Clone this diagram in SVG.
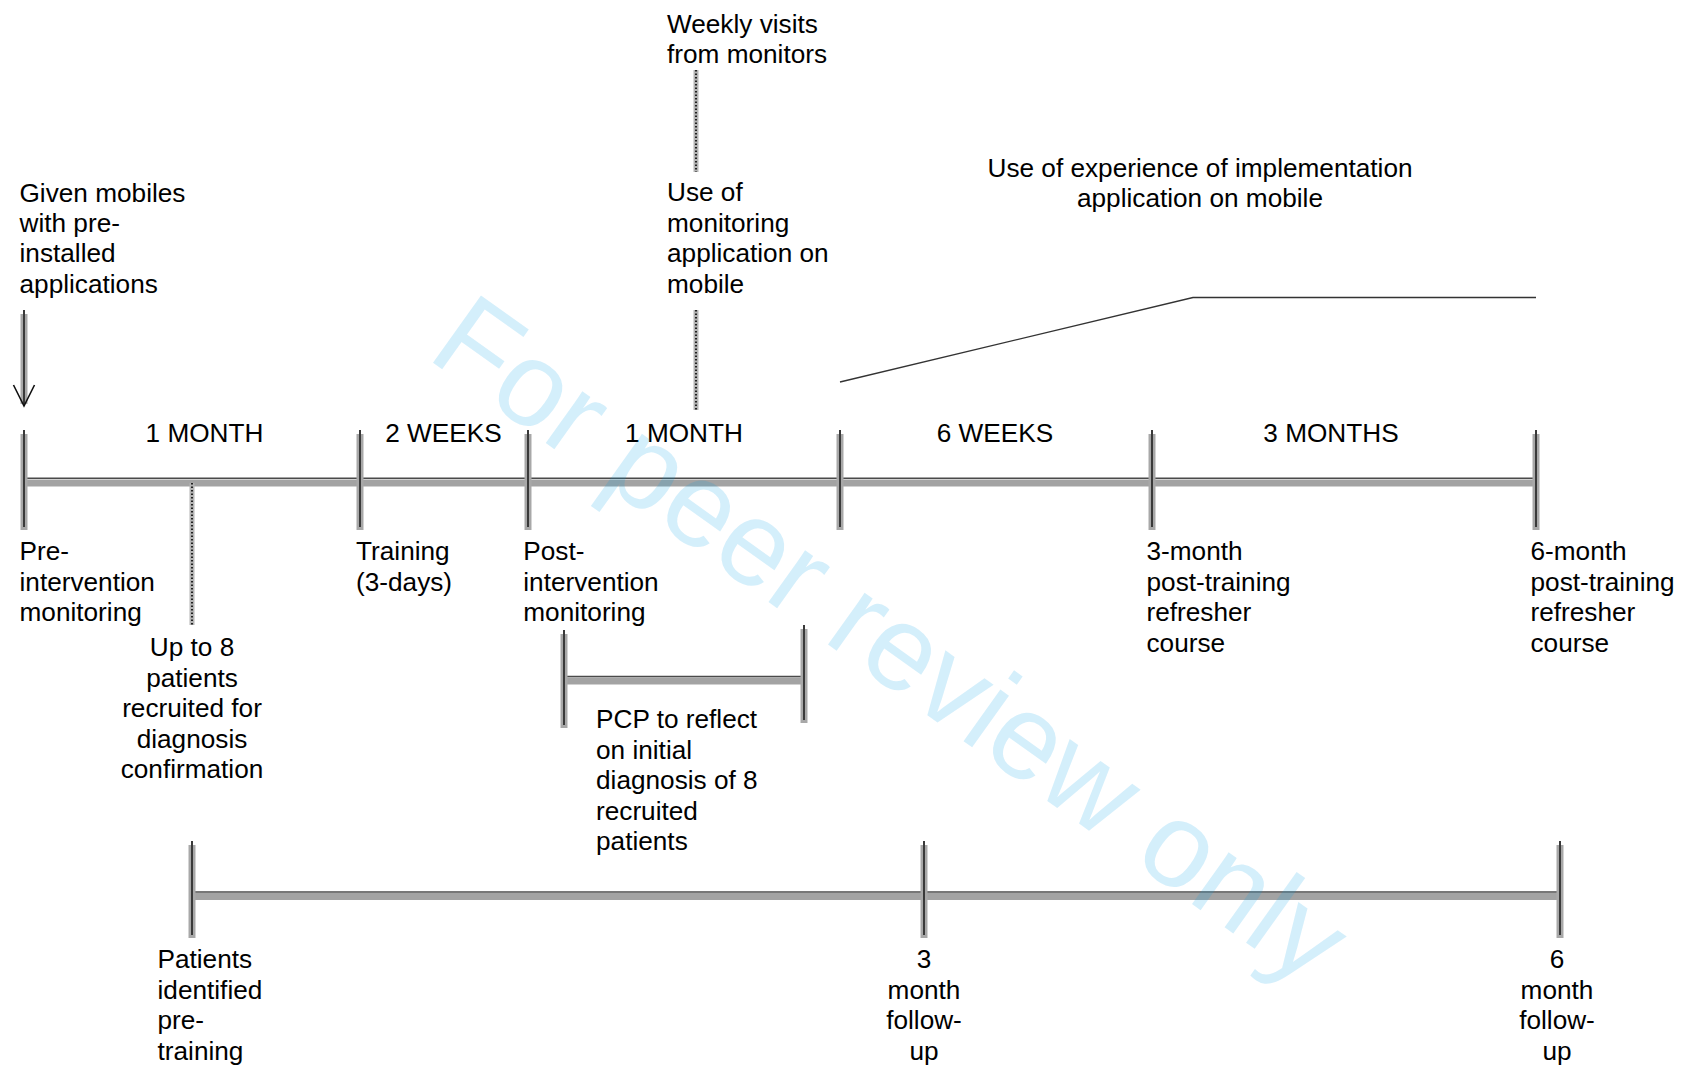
<svg xmlns="http://www.w3.org/2000/svg" width="1691" height="1079" viewBox="0 0 1691 1079">
  <style>
    text { font-family: "Liberation Sans", Arial, sans-serif; font-size: 26.2px; fill: #000; }
    .mid { text-anchor: middle; }
    .halo { stroke: #a8a8a8; stroke-width: 7; fill: none; }
    .core { stroke: #3a3a3a; stroke-width: 2; fill: none; }
    .band { stroke: #a3a3a3; stroke-width: 7; fill: none; }
    .edge { stroke: #4a4a4a; stroke-width: 1.6; fill: none; }
    .dothalo { stroke: #b4b4b4; stroke-width: 5; fill: none; }
    .dots { stroke: #222; stroke-width: 2; stroke-dasharray: 1.5 2; fill: none; }
    .thin { stroke: #333; stroke-width: 1.3; fill: none; }
    .mark { font-size: 120px; fill: #00a2e8; fill-opacity: 0.17; }
  </style>

  <rect width="1691" height="1079" fill="#fff"/>

  <!-- connectors: axes, ticks, dotted links, arrow, bracket -->
  <g id="connectors">
    <!-- main timeline -->
    <line class="band" x1="24" y1="483" x2="1536" y2="483"/>
    <line class="edge" x1="24" y1="478.3" x2="1536" y2="478.3"/>
    <!-- main ticks -->
    <g id="main-ticks">
      <line class="halo" x1="24" y1="434" x2="24" y2="530"/><line class="core" x1="24" y1="430" x2="24" y2="527"/>
      <line class="halo" x1="360" y1="434" x2="360" y2="530"/><line class="core" x1="360" y1="430" x2="360" y2="527"/>
      <line class="halo" x1="528" y1="434" x2="528" y2="530"/><line class="core" x1="528" y1="430" x2="528" y2="527"/>
      <line class="halo" x1="840" y1="434" x2="840" y2="530"/><line class="core" x1="840" y1="430" x2="840" y2="527"/>
      <line class="halo" x1="1152" y1="434" x2="1152" y2="530"/><line class="core" x1="1152" y1="430" x2="1152" y2="527"/>
      <line class="halo" x1="1536" y1="434" x2="1536" y2="530"/><line class="core" x1="1536" y1="430" x2="1536" y2="527"/>
    </g>

    <!-- arrow from "Given mobiles" -->
    <line class="halo" x1="24" y1="314" x2="24" y2="404"/>
    <line class="core" x1="24" y1="310" x2="24" y2="406"/>
    <polyline points="13.5,385 24,406 34.5,385" stroke="#111" stroke-width="1.6" fill="none"/>

    <!-- dotted links -->
    <line class="dothalo" x1="696" y1="70" x2="696" y2="172"/>
    <line class="dots" x1="696" y1="70" x2="696" y2="172"/>
    <line class="dothalo" x1="696" y1="310" x2="696" y2="410"/>
    <line class="dots" x1="696" y1="310" x2="696" y2="410"/>
    <line class="dothalo" x1="192" y1="483" x2="192" y2="625"/>
    <line class="dots" x1="192" y1="483" x2="192" y2="625"/>

    <!-- bent line towards the later phase label -->
    <polyline class="thin" points="840,382 1193,297.5 1536,297.5"/>

    <!-- PCP bracket -->
    <line class="band" x1="564" y1="681" x2="804" y2="681"/>
    <line class="edge" x1="564" y1="676.5" x2="804" y2="676.5"/>
    <line class="halo" x1="564" y1="634" x2="564" y2="728"/><line class="core" x1="564" y1="630" x2="564" y2="725"/>
    <line class="halo" x1="804" y1="629" x2="804" y2="723"/><line class="core" x1="804" y1="625" x2="804" y2="720"/>

    <!-- follow-up timeline -->
    <line class="band" x1="192" y1="896.5" x2="1558" y2="896.5"/>
    <line class="edge" x1="192" y1="892" x2="1558" y2="892"/>
    <line class="halo" x1="192" y1="845" x2="192" y2="938"/><line class="core" x1="192" y1="841" x2="192" y2="935"/>
    <line class="halo" x1="924" y1="845" x2="924" y2="938"/><line class="core" x1="924" y1="841" x2="924" y2="935"/>
    <line class="halo" x1="1560" y1="845" x2="1560" y2="938"/><line class="core" x1="1560" y1="841" x2="1560" y2="935"/>
  </g>

  <!-- labels above the timeline -->
  <g id="weekly-visits">
    <text x="667" y="33">Weekly visits</text>
    <text x="667" y="63">from monitors</text>
  </g>
  <g id="monitoring-app">
    <text x="667" y="201">Use of</text>
    <text x="667" y="231.5">monitoring</text>
    <text x="667" y="262">application on</text>
    <text x="667" y="292.5">mobile</text>
  </g>
  <g id="given-mobiles">
    <text x="19.5" y="201.5">Given mobiles</text>
    <text x="19.5" y="232">with pre-</text>
    <text x="19.5" y="262">installed</text>
    <text x="19.5" y="292.5">applications</text>
  </g>
  <g id="implementation-app">
    <text class="mid" x="1200" y="177">Use of experience of implementation</text>
    <text class="mid" x="1200" y="207">application on mobile</text>
  </g>

  <!-- period labels -->
  <g id="periods">
    <text class="mid" x="204.5" y="442">1 MONTH</text>
    <text class="mid" x="443.5" y="442">2 WEEKS</text>
    <text class="mid" x="684" y="442">1 MONTH</text>
    <text class="mid" x="995" y="442">6 WEEKS</text>
    <text class="mid" x="1331" y="442">3 MONTHS</text>
  </g>

  <!-- milestone labels -->
  <g id="pre-intervention">
    <text x="19.5" y="560">Pre-</text>
    <text x="19.5" y="590.5">intervention</text>
    <text x="19.5" y="621">monitoring</text>
  </g>
  <g id="training">
    <text x="356" y="560">Training</text>
    <text x="356" y="590.5">(3-days)</text>
  </g>
  <g id="post-intervention">
    <text x="523.3" y="560">Post-</text>
    <text x="523.3" y="590.5">intervention</text>
    <text x="523.3" y="621">monitoring</text>
  </g>
  <g id="refresher-3">
    <text x="1146.5" y="560">3-month</text>
    <text x="1146.5" y="590.5">post-training</text>
    <text x="1146.5" y="621">refresher</text>
    <text x="1146.5" y="651.5">course</text>
  </g>
  <g id="refresher-6">
    <text x="1530.5" y="560">6-month</text>
    <text x="1530.5" y="590.5">post-training</text>
    <text x="1530.5" y="621">refresher</text>
    <text x="1530.5" y="651.5">course</text>
  </g>
  <g id="recruitment">
    <text class="mid" x="192" y="656">Up to 8</text>
    <text class="mid" x="192" y="686.5">patients</text>
    <text class="mid" x="192" y="717">recruited for</text>
    <text class="mid" x="192" y="747.5">diagnosis</text>
    <text class="mid" x="192" y="778">confirmation</text>
  </g>
  <g id="pcp-reflection">
    <text x="596" y="728">PCP to reflect</text>
    <text x="596" y="758.5">on initial</text>
    <text x="596" y="789">diagnosis of 8</text>
    <text x="596" y="819.5">recruited</text>
    <text x="596" y="850">patients</text>
  </g>

  <!-- follow-up labels -->
  <g id="patients-identified">
    <text x="157.5" y="968">Patients</text>
    <text x="157.5" y="998.5">identified</text>
    <text x="157.5" y="1029">pre-</text>
    <text x="157.5" y="1059.5">training</text>
  </g>
  <g id="followup-3">
    <text class="mid" x="924" y="968">3</text>
    <text class="mid" x="924" y="998.5">month</text>
    <text class="mid" x="924" y="1029">follow-</text>
    <text class="mid" x="924" y="1059.5">up</text>
  </g>
  <g id="followup-6">
    <text class="mid" x="1557" y="968">6</text>
    <text class="mid" x="1557" y="998.5">month</text>
    <text class="mid" x="1557" y="1029">follow-</text>
    <text class="mid" x="1557" y="1059.5">up</text>
  </g>

  <!-- diagonal stamp -->
  <text class="mark" transform="translate(425 357) rotate(35.5)">For peer review only</text>
</svg>
